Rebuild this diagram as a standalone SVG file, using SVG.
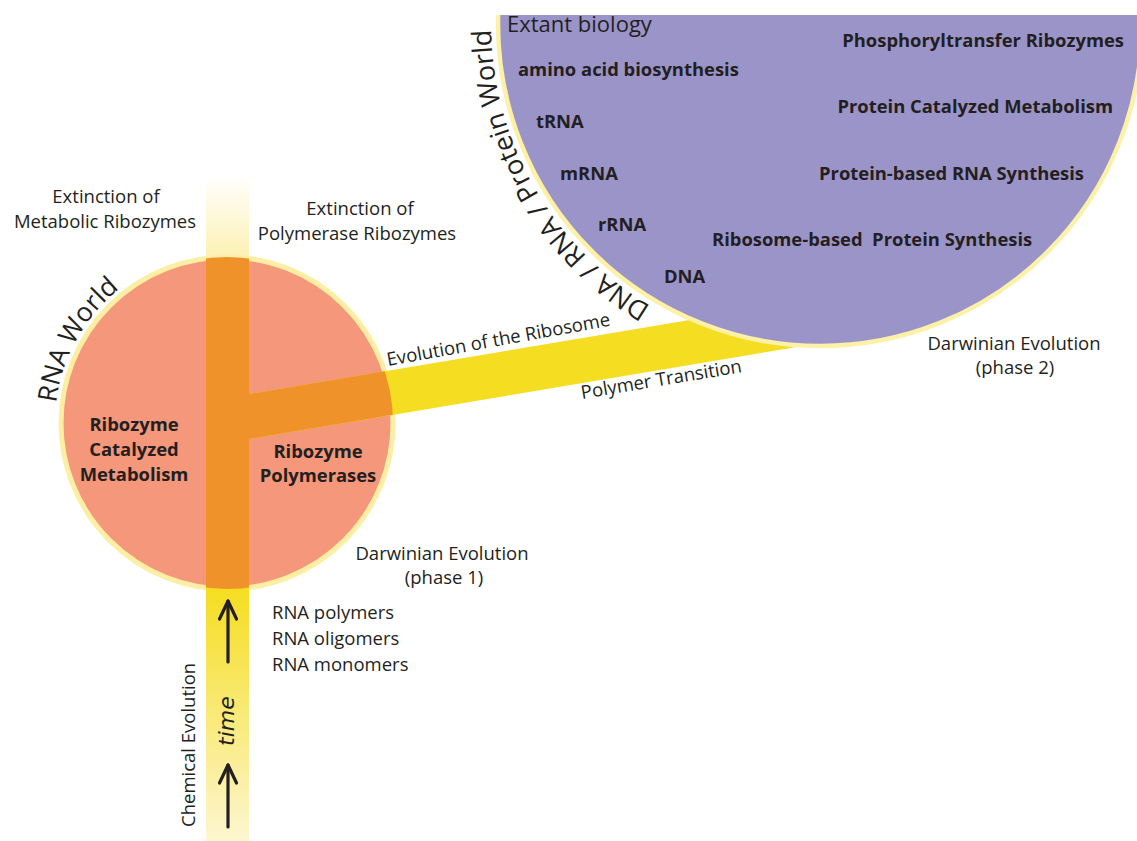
<svg xmlns="http://www.w3.org/2000/svg" width="1137" height="841" viewBox="0 0 1137 841">
<style>
.t{font-family:"Open Sans","Noto Sans",sans-serif;fill:#231f20;font-size:18.5px}
.b{font-family:"Open Sans","Noto Sans",sans-serif;fill:#231f20;font-size:18.4px;font-weight:bold}
.c{text-anchor:middle}
.curve{font-family:"Open Sans","Noto Sans",sans-serif;fill:#231f20;font-size:27px}
</style>
<defs>
<clipPath id="redClip"><circle cx="227" cy="423" r="166"/></clipPath>
<clipPath id="topClip"><rect x="0" y="15" width="1137" height="826"/></clipPath>
<linearGradient id="gTop" x1="0" y1="175" x2="0" y2="270" gradientUnits="userSpaceOnUse">
<stop offset="0" stop-color="#fcefa8" stop-opacity="0"/>
<stop offset="1" stop-color="#fcefa8"/>
</linearGradient>
<linearGradient id="gBot" x1="0" y1="585" x2="0" y2="841" gradientUnits="userSpaceOnUse">
<stop offset="0" stop-color="#f5dd1e"/>
<stop offset="1" stop-color="#fdf6d0"/>
</linearGradient>
<path id="arcRed" d="M 55 423 A 172 172 0 0 1 227 251"/>
<path id="arcPurple" d="M 707.5 333.2 A 329 329 0 0 1 492.3 -4.7"/>
<marker id="chev" viewBox="0 0 22 20" refX="20" refY="10" markerWidth="22" markerHeight="20" markerUnits="userSpaceOnUse" orient="auto">
<path d="M 2 1.5 L 20 10 L 2 18.5" fill="none" stroke="#231f20" stroke-width="3.2" stroke-linecap="round" stroke-linejoin="round"/>
</marker>
</defs>

<g id="rna-world">
<circle cx="227" cy="423" r="166" fill="#f4977a" stroke="#fcefa3" stroke-width="5"/>
</g>

<g id="connectors">
<rect x="206" y="175" width="43" height="95" fill="url(#gTop)"/>
<rect x="206" y="575" width="43" height="266" fill="url(#gBot)"/>
<polygon points="249,394 810,299.8 810,344.8 249,439" fill="#f5de22"/>
<g clip-path="url(#redClip)" fill="#f0922a">
<rect x="206" y="250" width="43" height="345"/>
<polygon points="249,394 810,299.8 810,344.8 249,439"/>
</g>
<line x1="228" y1="662" x2="228" y2="601" stroke="#231f20" stroke-width="3.2" stroke-linecap="round" marker-end="url(#chev)"/>
<line x1="228" y1="827" x2="228" y2="765" stroke="#231f20" stroke-width="3.2" stroke-linecap="round" marker-end="url(#chev)"/>
</g>

<g id="extant-biology">
<g clip-path="url(#topClip)">
<circle cx="820" cy="24" r="322" fill="#9b94c8" stroke="#fcf1a6" stroke-width="4.5"/>
</g>
<text class="t" x="507" y="32" style="font-size:22px">Extant biology</text>
<text class="b" x="518" y="76">amino acid biosynthesis</text>
<text class="b" x="536" y="128">tRNA</text>
<text class="b" x="560" y="180">mRNA</text>
<text class="b" x="598" y="231">rRNA</text>
<text class="b" x="664" y="283">DNA</text>
<text class="b" x="712" y="246" xml:space="preserve">Ribosome-based  Protein Synthesis</text>
<text class="b" x="1124" y="47" text-anchor="end">Phosphoryltransfer Ribozymes</text>
<text class="b" x="1113" y="113" text-anchor="end">Protein Catalyzed Metabolism</text>
<text class="b" x="1084" y="180" text-anchor="end">Protein-based RNA Synthesis</text>
<text class="curve"><textPath href="#arcPurple" startOffset="63">DNA / RNA / Protein World</textPath></text>
</g>

<g id="rna-world-labels">
<text class="curve" style="font-size:26.5px"><textPath href="#arcRed" startOffset="20">RNA World</textPath></text>
<text class="b c" x="134" y="431">Ribozyme</text>
<text class="b c" x="134" y="456">Catalyzed</text>
<text class="b c" x="134" y="481">Metabolism</text>
<text class="b c" x="318" y="458">Ribozyme</text>
<text class="b c" x="318" y="482">Polymerases</text>
</g>

<g id="labels">
<text class="t c" x="106" y="203">Extinction of</text>
<text class="t c" x="105" y="228">Metabolic Ribozymes</text>
<text class="t c" x="360" y="215">Extinction of</text>
<text class="t c" x="357" y="240">Polymerase Ribozymes</text>
<text class="t" transform="translate(388,366) rotate(-10.3)">Evolution of the Ribosome</text>
<text class="t" transform="translate(582,399) rotate(-9.5)">Polymer Transition</text>
<text class="t c" x="1014" y="350">Darwinian Evolution</text>
<text class="t c" x="1015" y="374">(phase 2)</text>
<text class="t c" x="442" y="560">Darwinian Evolution</text>
<text class="t c" x="444" y="584">(phase 1)</text>
<text class="t" x="272" y="619">RNA polymers</text>
<text class="t" x="272" y="645">RNA oligomers</text>
<text class="t" x="272" y="671">RNA monomers</text>
<text class="t" transform="translate(195,827) rotate(-90)">Chemical Evolution</text>
<text transform="translate(234,746) rotate(-90)" style="font-family:'DejaVu Sans',sans-serif;font-style:italic;font-size:22px;fill:#231f20">time</text>
</g>
</svg>
